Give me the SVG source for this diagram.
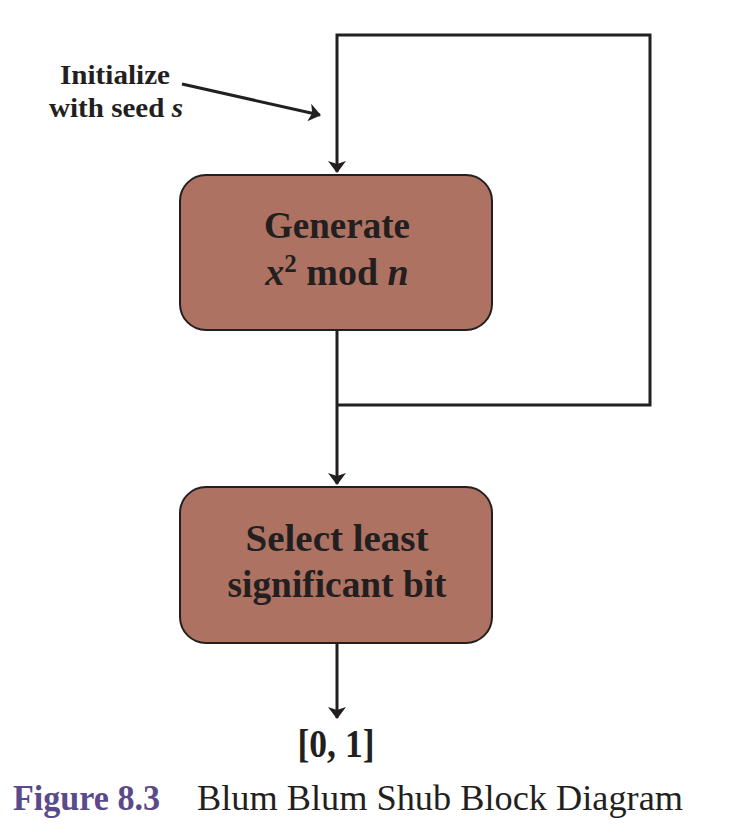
<svg xmlns="http://www.w3.org/2000/svg" width="754" height="829" viewBox="0 0 754 829">
<defs>
<style>
.box{fill:#ad7262;stroke:#231f20;stroke-width:2}
.ln{fill:none;stroke:#231f20;stroke-width:3}
.t{font-family:"Liberation Serif","Times New Roman",serif;font-weight:bold;fill:#231f20;text-anchor:middle}
.i{font-style:italic}
</style>
<marker id="ah" viewBox="0 0 12 22" refX="11" refY="11" markerWidth="12" markerHeight="22" markerUnits="userSpaceOnUse" orient="auto">
<path d="M0,2 L12,11 L0,20 L3,11 Z" fill="#231f20"/>
</marker>
</defs>
<rect width="754" height="829" fill="#fff"/>
<g id="connectors">
<path class="ln" d="M337,405 L650,405 L650,35 L337,35 L337,172" marker-end="url(#ah)"/>
<path class="ln" d="M337,330 L337,484" marker-end="url(#ah)"/>
<path class="ln" d="M337,643 L337,718" marker-end="url(#ah)"/>
<path class="ln" d="M182,84 L320,115" marker-end="url(#ah)"/>
</g>
<g id="init">
<text class="t" x="115" y="84" font-size="28" textLength="110" lengthAdjust="spacingAndGlyphs">Initialize</text>
<text class="t" x="116" y="117" font-size="28" textLength="134" lengthAdjust="spacingAndGlyphs">with seed <tspan class="i">s</tspan></text>
</g>
<g id="generate">
<rect class="box" x="180" y="175" width="312" height="155" rx="26"/>
<text class="t" x="337" y="238" font-size="38" textLength="146" lengthAdjust="spacingAndGlyphs">Generate</text>
<text class="t" x="337" y="285" font-size="38"><tspan class="i">x</tspan><tspan font-size="25" dy="-13">2</tspan><tspan dy="13"> mod </tspan><tspan class="i">n</tspan></text>
</g>
<g id="select">
<rect class="box" x="180" y="487" width="312" height="156" rx="26"/>
<text class="t" x="337" y="551" font-size="38" textLength="183" lengthAdjust="spacingAndGlyphs">Select least</text>
<text class="t" x="337" y="597" font-size="38" textLength="219" lengthAdjust="spacingAndGlyphs">significant bit</text>
</g>
<g id="output">
<text class="t" x="336" y="757" font-size="39" textLength="77" lengthAdjust="spacingAndGlyphs">[0, 1]</text>
</g>
<g id="caption">
<text x="13" y="810" font-family="Liberation Serif,serif" font-weight="bold" font-size="36" fill="#5b4a8b" textLength="147" lengthAdjust="spacingAndGlyphs">Figure 8.3</text>
<text x="197" y="810" font-family="Liberation Serif,serif" font-size="36" fill="#231f20" textLength="486" lengthAdjust="spacingAndGlyphs">Blum Blum Shub Block Diagram</text>
</g>
</svg>
